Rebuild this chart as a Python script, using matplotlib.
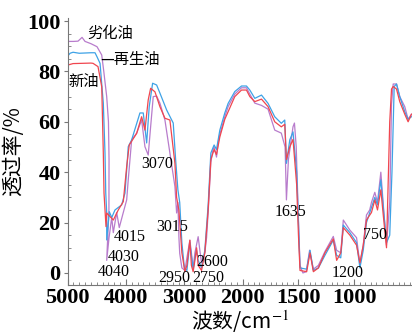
import matplotlib
matplotlib.use('Agg')
import matplotlib.pyplot as plt
import numpy as np

## data (wavenumber cm-1, transmittance %)
# 劣化油 (purple)
wn_old = [5000, 4900, 4821, 4752, 4701, 4600, 4496, 4415, 4380, 4330, 4300, 4290, 4292, 4330, 4290,
          4244, 4217, 4159, 4115, 4046, 3988, 3961, 3903, 3817, 3732, 3675, 3619, 3578, 3533, 3475,
          3419, 3333, 3248, 3162, 3133, 3111, 3094, 3080, 3043, 2991, 2957, 2906, 2880, 2850, 2820,
          2764, 2730, 2706, 2650, 2620, 2593, 2547, 2510, 2491, 2450, 2420, 2393, 2308, 2251, 2137,
          2022, 1967, 1937, 1892, 1832, 1773, 1713, 1654, 1620, 1608, 1590, 1549, 1536, 1520, 1500,
          1486, 1460, 1430, 1400, 1366, 1321, 1262, 1187, 1157, 1120, 1097, 1038, 978, 948, 918,
          889, 860, 844, 814, 790, 760, 736, 709, 680, 664, 649, 619, 590, 545, 515, 485]
tr_old = [91.9, 91.9, 92.0, 93.5, 91.9, 91.0, 89.8, 86.5, 80, 70, 60, 45, 25, 5, 14,
          22, 16, 24, 18, 24, 29, 37, 52.8, 55.5, 60.7, 50.1, 46.8, 58, 70, 70.2,
          67.4, 60.7, 47.6, 34.3, 23.8, 28, 14.4, 7.8, 2, 1, 6, 13, 8, 2, 8,
          14.4, 8, 4, 8, 14, 24, 44, 49, 50, 46, 52, 55, 62, 66, 71,
          73.5, 73.5, 71, 67.4, 66.5, 65, 56.7, 55.5, 50, 29, 45, 58, 59.5, 50, 21,
          3, 0, 0.5, 9, 1.5, 3, 8.5, 14.5, 9, 8, 21, 17, 14, 3.5, 11,
          23, 25, 28, 32, 28, 40, 26, 11, 28, 67, 75, 75, 70, 66, 61, 63]

# 再生油 (blue)
wn_reg = [5000, 4957, 4906, 4800, 4600, 4530, 4496, 4444, 4388, 4359, 4346, 4330, 4330, 4285,
          4244, 4188, 4074, 4017, 3988, 3961, 3903, 3761, 3704, 3646, 3602, 3544, 3475, 3419,
          3304, 3191, 3150, 3111, 3080, 3043, 3000, 2957, 2906, 2870, 2850, 2820, 2791, 2764,
          2706, 2650, 2593, 2547, 2491, 2450, 2393, 2308, 2251, 2137, 2022, 1967, 1937, 1892,
          1832, 1773, 1713, 1654, 1623, 1608, 1578, 1549, 1516, 1500, 1486, 1426, 1396, 1366,
          1321, 1262, 1187, 1157, 1120, 1097, 1038, 978, 948, 918, 889, 844, 814, 790, 760,
          736, 709, 680, 660, 640, 619, 590, 545, 515, 485]
tr_reg = [86, 87.2, 87.6, 87.2, 87.4, 87.4, 85.8, 83.2, 67.4, 47.5, 31.7, 23.8, 13.1, 24.3,
          22, 25, 27, 31.7, 40.9, 50.1, 52.8, 63.5, 63.5, 51.6, 66, 75.3, 74.6, 71.4,
          64.7, 59.5, 45, 33, 28, 12, 2, 1, 12, 5, 1.5, 6, 9, 5,
          2, 9, 27, 47.6, 50.8, 49, 56.7, 63.5, 67.3, 72, 74.2, 74.2, 72.6, 69.3,
          70.6, 67.3, 62, 59.4, 60.7, 43.5, 52.8, 56, 40, 20, 2, 1.5, 9, 1,
          2, 7, 13, 7, 6, 19, 16, 12, 2, 9, 20, 26, 30, 27, 37,
          25, 12, 15, 40, 74, 75, 70, 64, 61, 62]

# 新油 (red)
wn_new = [5000, 4906, 4600, 4564, 4479, 4415, 4388, 4376, 4342, 4330, 4217, 4132, 4046, 3988,
          3944, 3817, 3732, 3675, 3619, 3578, 3504, 3419, 3333, 3248, 3162, 3133, 3094, 3043,
          2991, 2957, 2906, 2880, 2850, 2820, 2791, 2764, 2706, 2650, 2593, 2547, 2491, 2450,
          2393, 2308, 2251, 2137, 2022, 1967, 1937, 1892, 1832, 1773, 1713, 1654, 1623, 1608,
          1578, 1549, 1516, 1500, 1486, 1426, 1396, 1366, 1321, 1262, 1187, 1157, 1120, 1097,
          1038, 978, 948, 918, 889, 844, 814, 790, 760, 736, 709, 680, 664, 649, 619, 590,
          545, 515, 485]
tr_new = [82.5, 83.1, 83.3, 83.2, 81.9, 73.9, 47.6, 31.7, 18.4, 23.8, 21, 25, 28.3, 42.2,
          50.8, 55.4, 62, 56.7, 68.7, 73.3, 71.9, 66, 61.4, 60.7, 43.5, 30, 25, 8,
          0.5, 3, 13, 3, 0.5, 5, 10, 3, 1, 8, 25, 45, 49, 47,
          54, 61, 64, 70, 72.6, 72.6, 70, 68, 69, 66, 60, 58, 59, 45,
          50, 53, 35, 15, 1, 0.5, 8, 0.5, 2, 8, 13.5, 5, 8, 18,
          15, 11, 4, 11, 21, 24, 29, 25, 33, 22, 10, 60, 73, 74, 73, 68,
          63, 60, 63]

# peak labels
peak_text = ['4040', '4030', '4015', '3070', '3015', '2950', '2750', '2600', '1635', '1200', '750']
peak_x = [4214, 4043, 3932, 3470, 3205, 3171, 2598, 2520, 1573, 1054, 812]
peak_y = [0.4, 6.3, 14.3, 43.3, 18.3, -1.9, -1.9, 4.2, 24.2, 0.0, 15.1]

## axis below 2000 cm-1 is stretched (like an IR spectrometer printout)
k = 1.906
def fwd(x):
    x = np.asarray(x, dtype=float)
    return np.where(x >= 2000, x, 2000 - (2000 - x) * k)
def inv(t):
    t = np.asarray(t, dtype=float)
    return np.where(t >= 2000, t, 2000 - (2000 - t) / k)

plt.rcParams['mathtext.fontset'] = 'stix'
serif = 'Liberation Serif'
cjk = ['Noto Sans CJK SC', 'DejaVu Sans']

fig = plt.figure(figsize=(4.12, 3.33), dpi=100)
ax = fig.add_axes([0.164, 0.144, 0.836, 0.802])
ax.set_xscale('function', functions=(fwd, inv))

ax.plot(wn_old, tr_old, color='#b87ccc', lw=0.9)
ax.plot(wn_reg, tr_reg, color='#3ea2e6', lw=0.9)
ax.plot(wn_new, tr_new, color='#f0464f', lw=0.9)

ax.set_xlim(5000, 480)
ax.set_ylim(-4.8, 101.2)
ax.set_xticks([5000, 4000, 3000, 2000, 1500, 1000])
ax.set_xticks(list(range(4900, 2000, -100)) + list(range(1950, 480, -50)), minor=True)
ax.set_yticks([0, 20, 40, 60, 80, 100])
ax.set_yticks(np.arange(0, 101, 5), minor=True)

for sp in ['top', 'right']:
    ax.spines[sp].set_visible(False)
for sp in ['left', 'bottom']:
    ax.spines[sp].set_color('#777777')
    ax.spines[sp].set_linewidth(0.8)
ax.tick_params(axis='x', which='both', direction='in', color='#777777')
ax.tick_params(axis='x', which='major', length=4)
ax.tick_params(axis='x', which='minor', length=2)
ax.tick_params(axis='y', which='major', direction='out', length=3, color='#777777')
ax.tick_params(axis='y', which='minor', direction='in', length=2, color='#777777')
for lab in ax.get_xticklabels() + ax.get_yticklabels():
    lab.set_fontfamily(serif)
    lab.set_fontsize(16)
    lab.set_fontweight('bold')
ax.tick_params(axis='both', pad=2)

ax.set_ylabel('透过率/%', family=cjk, fontsize=15, labelpad=2)
ax.set_xlabel('波数/cm$^{-1}$', family=cjk, fontsize=15, labelpad=0)

# series names written on the chart
ax.text(4274, 95.2, '劣化油', family=cjk, fontsize=11, ha='center', va='center')
ax.text(4444, 84.9, '—再生油', family=cjk, fontsize=11, ha='left', va='center')
ax.text(4718, 75.8, '新油', family=cjk, fontsize=11, ha='center', va='center')

for t, x, y in zip(peak_text, peak_x, peak_y):
    ax.text(x, y, t, family=serif, fontsize=11.5, ha='center', va='center')

plt.savefig('out.png', dpi=100)
